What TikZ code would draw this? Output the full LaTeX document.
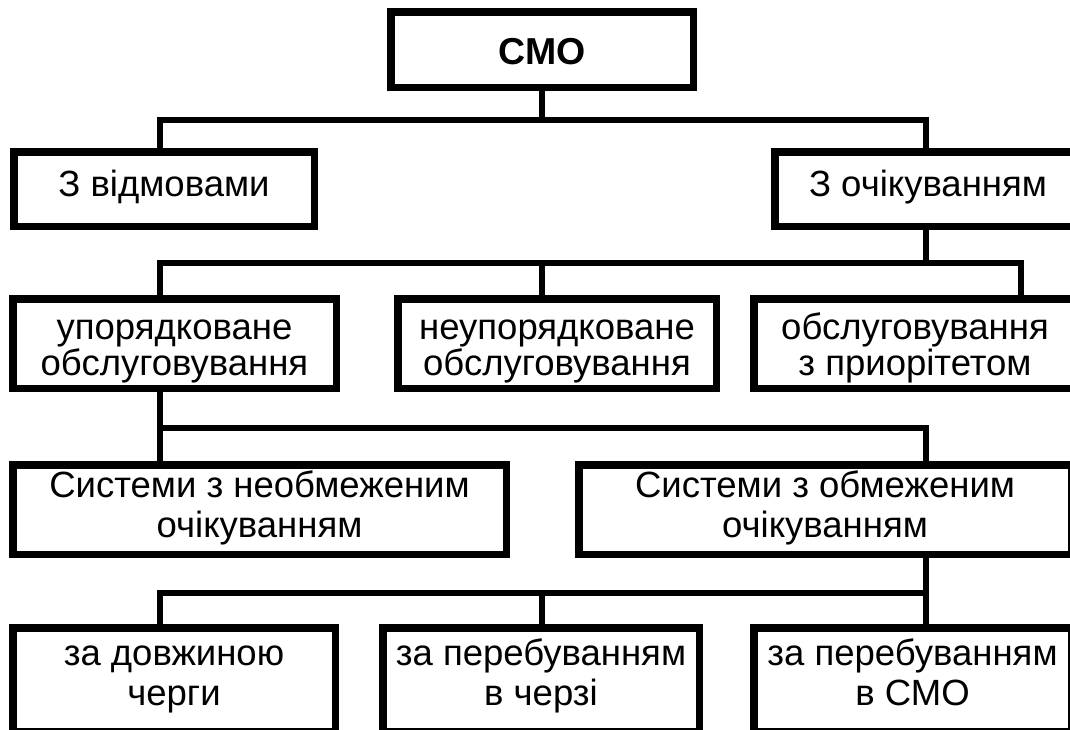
\documentclass[tikz,border=0pt]{standalone}
\usepackage{fontspec}
\setmainfont{Liberation Sans}
\usetikzlibrary{calc}
\tikzset{
    box/.style={draw, line width=7.5pt, inner sep=0pt, align=center,
      font=\fontsize{36.5}{36}\selectfont},
    wide/.style={font=\fontsize{36.5}{40}\selectfont},
    link/.style={line width=6.5pt, line join=miter},
  }

\begin{document}
\begin{tikzpicture}[x=1pt,y=-1pt]
	\useasboundingbox (0,0) rectangle (1070,729);
	%columns and bars
	\coordinate (colA) at (160,0);
	\coordinate (colB) at (542,0);
	\coordinate (colC) at (926,0);
	\coordinate (colD) at (1021,0);
	\coordinate (y1) at (0,120);
	\coordinate (y2) at (0,263);
	\coordinate (y3) at (0,428);
	\coordinate (y4) at (0,593);

	%top
	\node[box, minimum width=302.5pt, minimum height=75.5pt, text height=30pt, text depth=1pt,
	  font=\bfseries\fontsize{37.5}{36}\selectfont] (smo) at (542,49.5) {СМО};

	%level 2
	\node[box, minimum width=300.5pt, minimum height=74.5pt, text height=28pt, text depth=14pt] (vidm) at (164,189) {З відмовами};
	\node[box, minimum width=306.5pt, minimum height=74.5pt, text height=28pt, text depth=14pt] (ochik) at (928,189) {З очікуванням};

	%level 3
	\node[box, minimum width=323.5pt, minimum height=89.5pt, text height=71pt, text depth=8pt] (upor) at (174.5,343.5) {упорядковане\\обслуговування};
	\node[box, minimum width=318.5pt, minimum height=89.5pt, text height=71pt, text depth=8pt] (neupor) at (557,343.5) {неупорядковане\\обслуговування};
	\node[box, minimum width=322.5pt, minimum height=89.5pt, text height=71pt, text depth=8pt] (prior) at (915,343.5) {обслуговування\\з приорітетом};

	%level 4
	\node[box, wide, minimum width=493.5pt, minimum height=89.5pt, text height=63pt, text depth=8pt] (neobm) at (259.5,509.5) {Системи з необмеженим\\очікуванням};
	\node[box, wide, minimum width=492.5pt, minimum height=89.5pt, text height=63pt, text depth=8pt] (obm) at (825,509.5) {Системи з обмеженим\\очікуванням};

	%level 5
	\node[box, wide, minimum width=322.5pt, minimum height=103.5pt, text height=59pt, text depth=8pt] (dovzh) at (174,679.5) {за довжиною\\черги};
	\node[box, wide, minimum width=316.5pt, minimum height=103.5pt, text height=59pt, text depth=8pt] (cherz) at (541,679.5) {за перебуванням\\в черзі};
	\node[box, wide, minimum width=317.5pt, minimum height=103.5pt, text height=59pt, text depth=8pt] (vsmo) at (912.5,679.5) {за перебуванням\\в СМО};

	%links
	\draw[link] (smo.south) -- (colB |- y1);
	\draw[link] (vidm.north -| colA) |- (colC |- y1) -- (ochik.north -| colC);

	\draw[link] (ochik.south -| colC) -- (colC |- y2);
	\draw[link] (upor.north -| colA) |- (colD |- y2) -- (prior.north -| colD);
	\draw[link] (neupor.north -| colB) -- (colB |- y2);

	\draw[link] (upor.south -| colA) -- (neobm.north -| colA);
	\draw[link] (colA |- y3) -| (obm.north -| colC);

	\draw[link] (obm.south -| colC) -- (colC |- y4);
	\draw[link] (dovzh.north -| colA) |- (colC |- y4) -- (vsmo.north -| colC);
	\draw[link] (cherz.north -| colB) -- (colB |- y4);
\end{tikzpicture}
\end{document}
